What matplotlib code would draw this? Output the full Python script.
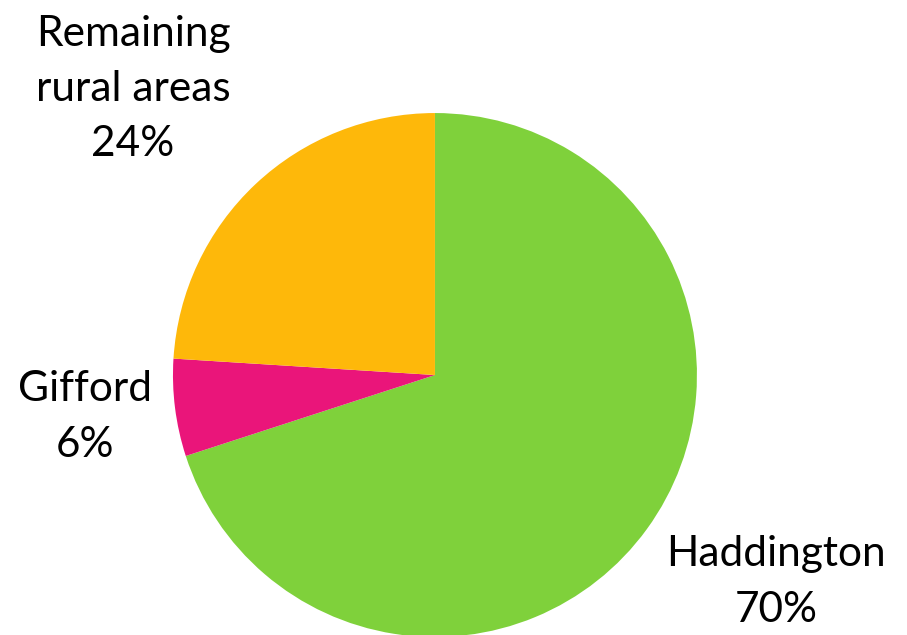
import matplotlib
matplotlib.use('Agg')
import matplotlib.pyplot as plt

areas = ['Haddington', 'Gifford', 'Remaining\nrural areas']
shares = [70, 6, 24]
colors = ['#7FD13B', '#EA157A', '#FEB80A']

fig = plt.figure(figsize=(9.07, 6.35), dpi=100)
ax = fig.add_axes([0.1907, -0.0032, 0.5777, 0.8252])
ax.pie(shares, colors=colors, startangle=90, counterclock=False,
       wedgeprops=dict(linewidth=0))
ax.set_xlim(-1, 1)
ax.set_ylim(-1, 1)
ax.set_aspect('equal')

# label positions in figure pixels (center x, center y from top)
label_pos = [(776, 582), (85, 417), (133, 89)]
for name, share, (px, py) in zip(areas, shares, label_pos):
    fig.text(px / 907, 1 - py / 635, f'{name}\n{share}%', ha='center', va='center',
             fontsize=30.5, family='Lato', linespacing=1.55, color='black')

fig.savefig('out.png', dpi=100)
